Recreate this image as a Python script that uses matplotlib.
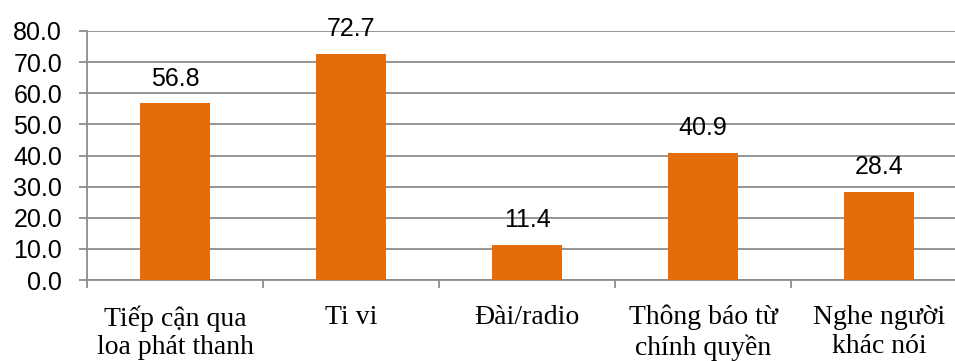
import matplotlib
matplotlib.use("Agg")
import matplotlib.pyplot as plt

categories = ["Tiếp cận qua\nloa phát thanh", "Ti vi", "Đài/radio",
              "Thông báo từ\nchính quyền", "Nghe người\nkhác nói"]
values = [56.8, 72.7, 11.4, 40.9, 28.4]
yticks = [0, 10, 20, 30, 40, 50, 60, 70, 80]

bar_color = "#E46C0A"
grid_color = "#8C8C8C"

fig = plt.figure(figsize=(9.55, 3.61), dpi=100)
W, H = 955, 361
left, right, top, bottom = 87, 967, 31, 280
ax = fig.add_axes([left / W, 1 - bottom / H, (right - left) / W, (bottom - top) / H])

x = list(range(len(categories)))
ax.bar(x, values, width=0.4, color=bar_color, zorder=3)

for xi, v in zip(x, values):
    ax.annotate(f"{v:.1f}", (xi, v), xytext=(0, 9), textcoords="offset points",
                ha="center", va="bottom", fontsize=18, family="Liberation Sans",
                color="#000000")

ax.set_xlim(-0.5, len(categories) - 0.5)
ax.set_ylim(0, 80)
ax.set_yticks(yticks)
ax.set_yticklabels([f"{t:.1f}" for t in yticks], family="Liberation Sans", fontsize=18)
ax.yaxis.grid(True, color=grid_color, linewidth=1.3, zorder=0)

ax.set_xticks([i - 0.5 for i in range(len(categories) + 1)])
ax.set_xticklabels([])
ax.set_xticks(x, minor=True)
ax.set_xticklabels(categories, minor=True, family="Liberation Serif", fontsize=20,
                   linespacing=1.2)
ax.tick_params(axis="x", which="minor", length=0, pad=18)
ax.tick_params(axis="x", which="major", length=6, width=1.3, color=grid_color, direction="out")
ax.tick_params(axis="y", length=6, width=1.3, color=grid_color, direction="out", pad=12)

for side in ["top", "right"]:
    ax.spines[side].set_visible(False)
for side in ["left", "bottom"]:
    ax.spines[side].set_color(grid_color)
    ax.spines[side].set_linewidth(1.3)

fig.savefig("out.png", dpi=100)
